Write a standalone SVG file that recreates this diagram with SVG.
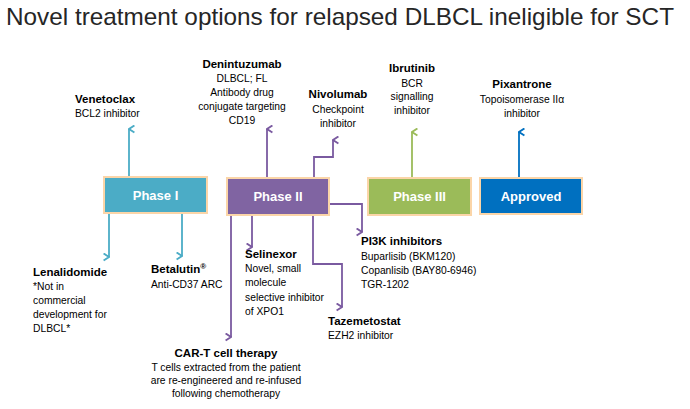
<svg xmlns="http://www.w3.org/2000/svg" width="690" height="409" viewBox="0 0 690 409">
<defs>
<style>
text{font-family:"Liberation Sans",Arial,sans-serif;fill:#000}
.title{font-size:24px;fill:#262626}
.h{font-size:11.5px;font-weight:bold}
.b{font-size:10.3px}
.c{text-anchor:middle}
.ph{font-size:13px;font-weight:bold;fill:#fff;text-anchor:middle}
.box{stroke:#FBD5A8;stroke-width:2}
.ln{fill:none;stroke-width:1.8}
</style>
<marker id="aT" viewBox="0 0 10 10" refX="5" refY="1" markerWidth="9" markerHeight="9" orient="auto-start-reverse" markerUnits="userSpaceOnUse"><path d="M1,7 L5,1 L9,7" fill="none" stroke="#4BACC6" stroke-width="2"/></marker>
<marker id="aP" viewBox="0 0 10 10" refX="5" refY="1" markerWidth="9" markerHeight="9" orient="auto-start-reverse" markerUnits="userSpaceOnUse"><path d="M1,7 L5,1 L9,7" fill="none" stroke="#7A5AA0" stroke-width="2"/></marker>
<marker id="aG" viewBox="0 0 10 10" refX="5" refY="1" markerWidth="9" markerHeight="9" orient="auto-start-reverse" markerUnits="userSpaceOnUse"><path d="M1,7 L5,1 L9,7" fill="none" stroke="#9BBB59" stroke-width="2"/></marker>
<marker id="aB" viewBox="0 0 10 10" refX="5" refY="1" markerWidth="9" markerHeight="9" orient="auto-start-reverse" markerUnits="userSpaceOnUse"><path d="M1,7 L5,1 L9,7" fill="none" stroke="#0070C0" stroke-width="2"/></marker>
</defs>
<rect width="690" height="409" fill="#fff"/>
<text class="title" x="6" y="25" textLength="668" lengthAdjust="spacingAndGlyphs">Novel treatment options for relapsed DLBCL ineligible for SCT</text>

<g id="connectors">
<path class="ln" stroke="#4BACC6" d="M129,177 V129" marker-end="url(#aT)"/>
<path class="ln" stroke="#4BACC6" d="M109,213 V257" marker-end="url(#aT)"/>
<path class="ln" stroke="#4BACC6" d="M182,213 V256" marker-end="url(#aT)"/>
<path class="ln" stroke="#7A5AA0" d="M267,178 V129" marker-end="url(#aP)"/>
<path class="ln" stroke="#7A5AA0" d="M314,178 V157 H333 V140" marker-end="url(#aP)"/>
<path class="ln" stroke="#7A5AA0" d="M252,215 V247" marker-end="url(#aP)"/>
<path class="ln" stroke="#7A5AA0" d="M231,215 V337" marker-end="url(#aP)"/>
<path class="ln" stroke="#7A5AA0" d="M313,215 V264 H342 V307" marker-end="url(#aP)"/>
<path class="ln" stroke="#7A5AA0" d="M329,204 H362 V232" marker-end="url(#aP)"/>
<path class="ln" stroke="#9BBB59" d="M412,178 V132" marker-end="url(#aG)"/>
<path class="ln" stroke="#0070C0" d="M519,178 V132" marker-end="url(#aB)"/>
</g>

<g id="phase1"><rect class="box" x="104" y="177" width="103" height="36" fill="#4BACC6"/><text class="ph" x="155.5" y="200">Phase I</text></g>
<g id="phase2"><rect class="box" x="227" y="178" width="102" height="37" fill="#8064A2"/><text class="ph" x="278" y="201">Phase II</text></g>
<g id="phase3"><rect class="box" x="368" y="178" width="103" height="37" fill="#9BBB59"/><text class="ph" x="419.5" y="201">Phase III</text></g>
<g id="approved"><rect class="box" x="480" y="178" width="102" height="36" fill="#0070C0"/><text class="ph" x="531" y="201">Approved</text></g>

<g id="venetoclax"><text class="h" x="75" y="103">Venetoclax</text><text class="b" x="75" y="117">BCL2 inhibitor</text></g>
<g id="denintuzumab">
<text class="h c" x="242" y="68">Denintuzumab</text>
<text class="b c" x="242" y="82">DLBCL; FL</text>
<text class="b c" x="242" y="96">Antibody drug</text>
<text class="b c" x="242" y="110">conjugate targeting</text>
<text class="b c" x="242" y="124">CD19</text>
</g>
<g id="nivolumab">
<text class="h c" x="338" y="98">Nivolumab</text>
<text class="b c" x="338" y="113">Checkpoint</text>
<text class="b c" x="338" y="127">inhibitor</text>
</g>
<g id="ibrutinib">
<text class="h c" x="412" y="72">Ibrutinib</text>
<text class="b c" x="412" y="87">BCR</text>
<text class="b c" x="412" y="100">signalling</text>
<text class="b c" x="412" y="114">inhibitor</text>
</g>
<g id="pixantrone">
<text class="h c" x="522" y="88">Pixantrone</text>
<text class="b c" x="522" y="103">Topoisomerase IIα</text>
<text class="b c" x="522" y="117">inhibitor</text>
</g>
<g id="lenalidomide">
<text class="h" x="33" y="276">Lenalidomide</text>
<text class="b" x="33" y="290">*Not in</text>
<text class="b" x="33" y="304">commercial</text>
<text class="b" x="33" y="318">development for</text>
<text class="b" x="33" y="332">DLBCL*</text>
</g>
<g id="betalutin">
<text class="h" x="151" y="273">Betalutin<tspan font-size="8" dy="-4">®</tspan></text>
<text class="b" x="151" y="288">Anti-CD37 ARC</text>
</g>
<g id="selinexor">
<text class="h" x="245" y="258">Selinexor</text>
<text class="b" x="245" y="272">Novel, small</text>
<text class="b" x="245" y="286">molecule</text>
<text class="b" x="245" y="301">selective inhibitor</text>
<text class="b" x="245" y="315">of XPO1</text>
</g>
<g id="pi3k">
<text class="h" x="361" y="245">PI3K inhibitors</text>
<text class="b" x="361" y="260">Buparlisib (BKM120)</text>
<text class="b" x="361" y="274">Copanlisib (BAY80-6946)</text>
<text class="b" x="361" y="288">TGR-1202</text>
</g>
<g id="tazemetostat">
<text class="h" x="328" y="325">Tazemetostat</text>
<text class="b" x="328" y="339">EZH2 inhibitor</text>
</g>
<g id="cart">
<text class="h c" x="226" y="357">CAR-T cell therapy</text>
<text class="b c" x="226" y="371">T cells extracted from the patient</text>
<text class="b c" x="226" y="384">are re-engineered and re-infused</text>
<text class="b c" x="226" y="397">following chemotherapy</text>
</g>
</svg>
